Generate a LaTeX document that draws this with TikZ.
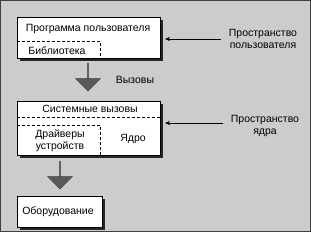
\documentclass[tikz,border=0pt]{standalone}
\usepackage{fontspec}
\setmainfont{Liberation Sans}
\usetikzlibrary{arrows.meta,shapes.arrows,shadows}

\begin{document}
\begin{tikzpicture}[x=1pt,y=-1pt]
\tikzset{
  layerbox/.style={draw=black,fill=white,line width=0.6pt,inner sep=0pt,
    general shadow={fill=black!85,shadow xshift=3pt,shadow yshift=-3pt}},
  divider/.style={densely dashed,line width=0.5pt},
  callarrow/.style={single arrow,draw=black!75,fill=black!65,rotate=270,
    minimum width=25pt,single arrow head extend=6.5pt,single arrow tip angle=90,
    minimum height=28pt,inner sep=0pt},
  boxtext/.style={font=\fontsize{10.5}{12}\selectfont},
  sidetext/.style={font=\fontsize{10.5}{12}\selectfont,align=center},
  pointer/.style={-{Stealth[length=5pt,width=4pt]},line width=0.5pt}
}
% background
\draw[fill=black!20,draw=black!75,line width=1pt] (0.5,0.5) rectangle (310.5,231.5);
% user space
\node[layerbox,minimum width=143pt,minimum height=41pt] (box_user) at (88.5,37.5) {};
\draw[divider] (17,41) -- (100,41) -- (100,58);
\node[boxtext] (t_prog) at (88,29) {Программа пользователя};
\node[boxtext] (t_lib) at (57,51) {Библиотека};
% calls
\node[callarrow] (arr_calls) at (88,77) {};
\node[boxtext] (t_calls) at (135,80) {Вызовы};
% kernel space
\node[layerbox,minimum width=143pt,minimum height=54pt] (box_kern) at (88.5,128) {};
\draw[divider] (17,117) -- (160,117);
\draw[divider] (17,125) -- (100,125) -- (100,155);
\node[boxtext] (t_sys) at (90,109) {Системные вызовы};
\node[boxtext,align=center] (t_drv) at (60,141) {Драйверы\\устройств};
\node[boxtext] (t_core) at (133,139) {Ядро};
% hardware
\node[callarrow] (arr_hw) at (60,175) {};
\node[layerbox,minimum width=85pt,minimum height=31pt] (box_hw) at (59.5,212) {};
\node[boxtext] (t_hw) at (58,212) {Оборудование};
% labels
\node[sidetext] (lbl_user) at (263,39) {Пространство\\пользователя};
\node[sidetext] (lbl_kern) at (265,126) {Пространство\\ядра};
\coordinate (user_in) at (165,39);
\coordinate (kern_in) at (165,123);
\draw[pointer] (lbl_user.west |- user_in) ++(-4,0) -- (user_in);
\draw[pointer] (lbl_kern.west |- kern_in) ++(-4,0) -- (kern_in);
\end{tikzpicture}
\end{document}
